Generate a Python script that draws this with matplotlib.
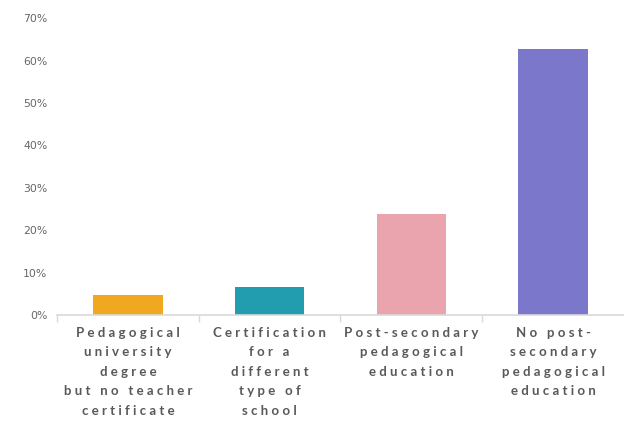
import numpy as np
import matplotlib
matplotlib.use('Agg')
from matplotlib import pyplot as plt
from matplotlib.ticker import PercentFormatter

categories = [
    "Pedagogical\nuniversity\ndegree\nbut no teacher\ncertificate",
    "Certification\nfor a\ndifferent\ntype of\nschool",
    "Post-secondary\npedagogical\neducation",
    "No post-\nsecondary\npedagogical\neducation",
]
values = [4.7, 6.7, 23.8, 62.7]
colors = ["#F0A820", "#229DAF", "#E9A4AD", "#7B77CA"]
y_ticks = [0, 10, 20, 30, 40, 50, 60, 70]


def tracked(s, gap="\u2009\u2009"):
    # crude letter spacing: thin spaces between characters
    return "\n".join(gap.join(line) for line in s.split("\n"))


fig = plt.figure(figsize=(6.24, 4.48), dpi=100)
ax = fig.add_axes([0.0913, 0.297, 0.9087, 0.662])

x = np.arange(len(categories))
ax.bar(x, values, width=0.49, color=colors)

ax.set_xlim(-0.5, len(categories) - 0.5)
ax.set_ylim(0, 70)
ax.set_yticks(y_ticks)
ax.yaxis.set_major_formatter(PercentFormatter(decimals=0))
ax.tick_params(axis="y", length=0, labelsize=7.8, labelcolor="#666666", pad=7)

# ticks at category boundaries, labels centred in between
ax.set_xticks(np.arange(len(categories)) - 0.5)
ax.set_xticklabels([])
ax.tick_params(axis="x", length=5, color="#d9d9d9", width=1)
for i, lab in enumerate(categories):
    ax.annotate(tracked(lab), xy=(i, 0), xycoords=("data", "axes fraction"),
                xytext=(0, -8.5), textcoords="offset points",
                ha="center", va="top", fontsize=9.5, fontweight="bold",
                color="#595959", linespacing=1.75, family=["Lato", "DejaVu Sans"])

for s in ["left", "right", "top"]:
    ax.spines[s].set_visible(False)
ax.spines["bottom"].set_color("#d9d9d9")
ax.spines["bottom"].set_linewidth(1.2)

fig.savefig("out.png", dpi=100)
